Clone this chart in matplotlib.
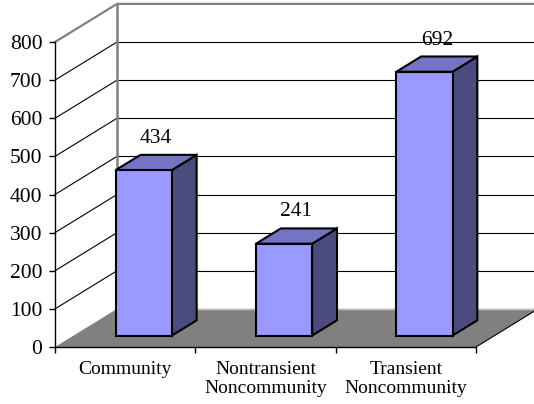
import matplotlib.pyplot as plt
from matplotlib.patches import Polygon

# --- Data ---
categories = ["Community", "Nontransient\nNoncommunity", "Transient\nNoncommunity"]
counts = [434, 241, 692]
y_ticks = [0, 100, 200, 300, 400, 500, 600, 700, 800]

# --- Fake 3D setup (oblique projection, data units) ---
DX, DY = 0.442, 100      # full depth offset of the walls
BAR_W = 0.4              # bar width within a category slot
F0, F1 = 0.3, 0.7        # bar front/back depth fraction

FRONT = "#9999ff"
TOP = "#7474c4"
SIDE = "#4b4b80"
WALL = "#808080"

plt.rcParams["font.family"] = ["Liberation Serif", "DejaVu Serif"]

fig = plt.figure(figsize=(5.34, 4.04), dpi=100)
ax = fig.add_axes([55 / 534, 57 / 404, 421 / 534, 305 / 404])
n = len(categories)
ymax = y_ticks[-1]
ax.set_xlim(0, n)
ax.set_ylim(0, ymax)

# floor
ax.add_patch(Polygon([(0, 0), (n, 0), (n + DX, DY), (DX, DY)], closed=True,
                     facecolor=WALL, edgecolor="none", clip_on=False, zorder=1))
ax.plot([DX, n + DX], [DY, DY], color="#c0c0c0", lw=1, clip_on=False, zorder=1.1)
ax.plot([n, n + DX], [0, DY], color="black", lw=0.8, clip_on=False, zorder=1.1)

# gridlines on back wall and side wall
for v in y_ticks[1:-1]:
    ax.plot([DX, n + DX], [v + DY, v + DY], color="black", lw=0.8,
            clip_on=False, zorder=0.5)
    ax.plot([0, DX], [v, v + DY], color="black", lw=0.8, clip_on=False, zorder=0.5)

# wall borders
ax.plot([0, DX, n + DX], [ymax, ymax + DY, ymax + DY], color=WALL, lw=1.6,
        clip_on=False, zorder=0.6)
ax.plot([DX, DX], [DY, ymax + DY], color=WALL, lw=1.8, clip_on=False, zorder=0.6)

# bars
for i, v in enumerate(counts):
    x0 = i + (1 - BAR_W) / 2
    x1 = x0 + BAR_W
    fx, fy = F0 * DX, F0 * DY
    bx, by = F1 * DX, F1 * DY
    kw = dict(closed=True, edgecolor="black", lw=1.5, clip_on=False, zorder=3,
              joinstyle="miter")
    ax.add_patch(Polygon([(x1 + fx, fy), (x1 + bx, by), (x1 + bx, v + by),
                          (x1 + fx, v + fy)], facecolor=SIDE, **kw))
    ax.add_patch(Polygon([(x0 + fx, v + fy), (x1 + fx, v + fy), (x1 + bx, v + by),
                          (x0 + bx, v + by)], facecolor=TOP, **kw))
    ax.add_patch(Polygon([(x0 + fx, fy), (x1 + fx, fy), (x1 + fx, v + fy),
                          (x0 + fx, v + fy)], facecolor=FRONT, **kw))
    ax.annotate(str(v), xy=((x0 + x1) / 2 + (F0 + F1) / 2 * DX, v + by),
                xytext=(0, 5), textcoords="offset points", ha="center",
                va="bottom", fontsize=15.5)

# axes, ticks and labels
for s in ["top", "right"]:
    ax.spines[s].set_visible(False)
for s in ["left", "bottom"]:
    ax.spines[s].set_linewidth(1.0)
    ax.spines[s].set_zorder(2)
ax.set_yticks(y_ticks)
ax.set_yticklabels([str(t) for t in y_ticks])
ax.tick_params(axis="y", direction="out", length=4, width=1, pad=5, labelsize=15.5)
ax.set_xticks(range(n + 1))
ax.set_xticklabels([""] * (n + 1))
ax.tick_params(axis="x", which="major", direction="out", length=4, width=1)
ax.set_xticks([i + 0.5 for i in range(n)], minor=True)
ax.set_xticklabels(categories, minor=True)
ax.tick_params(axis="x", which="minor", length=0, pad=10, labelsize=14)
ax.patch.set_alpha(0)

fig.savefig("out.png", dpi=100)
